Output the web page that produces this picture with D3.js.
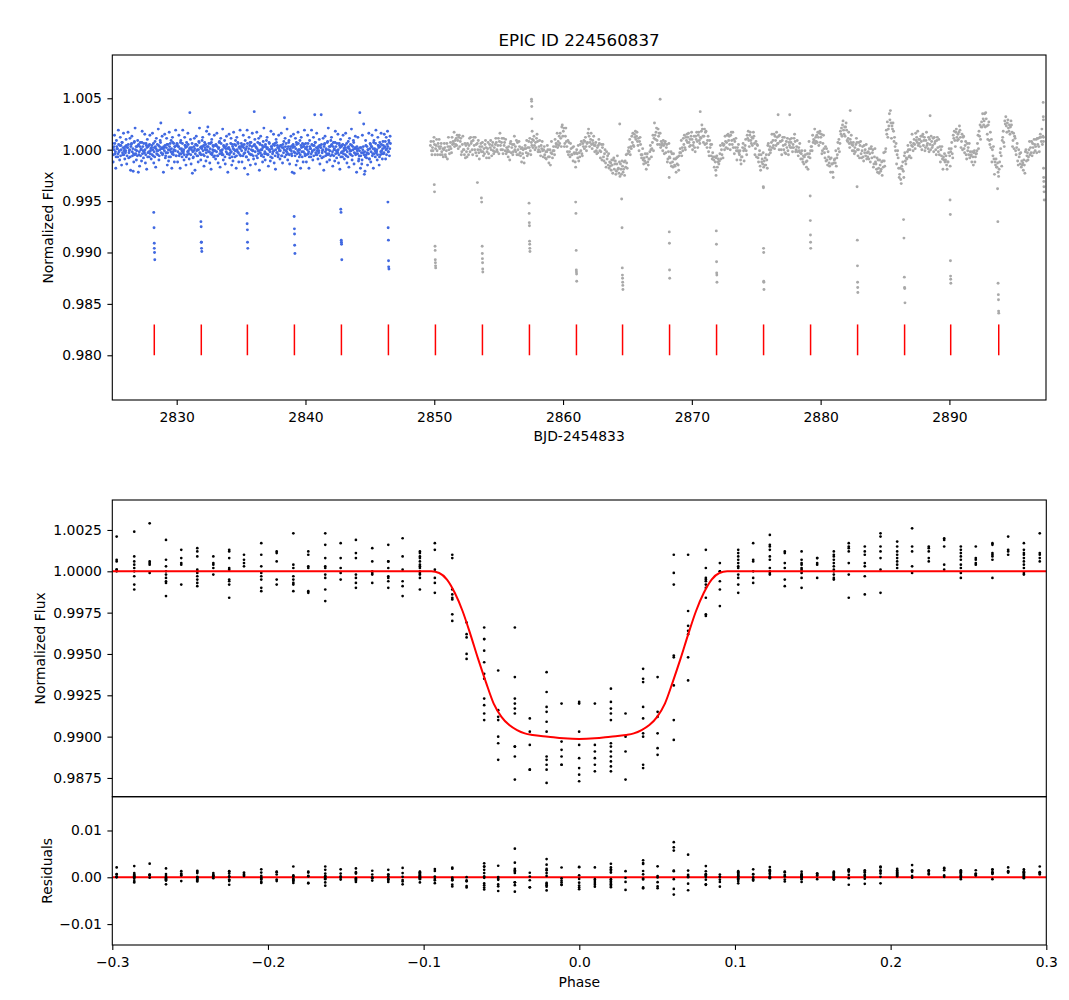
<!DOCTYPE html>
<html>
<head>
<meta charset="utf-8">
<script src="https://cdn.jsdelivr.net/npm/d3@7"></script>
<style>
body { margin: 0; background: #fff; }
text { font-family: "DejaVu Sans", sans-serif; fill: #000; }
</style>
</head>
<body>
<div id="chart"></div>
<script>
//---------------------------------------Data---------------------------------------
// transit mid-times marked in red (BJD-2454833)
var transitTimes = [2828.26, 2831.91, 2835.49, 2839.14, 2842.79, 2846.44, 2850.09, 2853.74, 2857.39, 2861.04,
  2864.62, 2868.27, 2871.92, 2875.57, 2879.22, 2882.87, 2886.52, 2890.10, 2893.83];

// first part of the light curve (blue), flux as (flux-1)*1e4, one row per day
var blueDay0 = 2825.02, blueStep = 0.05;
var blueFlux = [
  [6,-12,3,14,-4,-18,9,1,-7,19,-2,-10,12,4,-15,7,-5,16,-1,-9],
  [-3,10,-14,2,17,-8,-1,11,-20,5,13,-6,-21,-12,8,21,-4,-10,3,9],
  [-22,-5,-16,7,0,-11,18,3,-8,-2,15,-13,6,-19,10,-3,4,-7,14,-1],
  [-9,4,16,-6,-13,2,8,-17,11,-1,-5,20,-10,3,9,26,1,13,-4,-22],
  [2,15,-8,-3,11,-15,5,-11,17,0,-7,9,-18,12,-2,6,-12,3,19,-6],
  [6,-12,3,14,-4,-18,9,1,-7,19,-2,-10,12,4,-15,7,-5,16,-1,-9],
  [36,10,-14,2,-23,-8,-1,11,-20,5,13,-6,0,-12,8,21,-4,-10,3,9],
  [12,-5,-16,7,0,-11,18,3,22,-2,15,-13,6,-19,10,-3,4,-7,14,-1],
  [-9,4,16,-6,-13,2,8,-17,11,-1,-5,20,-10,3,9,-14,1,13,-4,-22],
  [2,15,-8,-3,11,-15,5,-11,17,0,-7,9,-18,12,-2,6,-12,3,19,-6],
  [6,-12,3,14,-4,-18,9,1,-7,19,-24,-10,12,4,-15,7,-5,16,-1,-9],
  [37,10,-14,2,17,-8,-1,11,-20,5,13,-6,0,-12,8,21,-4,-10,3,9],
  [12,-5,-16,7,0,-11,18,3,-8,-2,15,-13,6,-19,10,-3,4,-7,14,-1],
  [-9,4,16,-6,-13,2,8,31,11,-1,-5,20,-10,3,9,-14,1,13,-4,-22],
  [2,15,-23,-3,11,-15,5,-11,17,0,-7,9,-18,12,-2,6,-12,3,19,-6],
  [6,-12,3,14,-4,-18,9,1,-7,19,-2,-10,12,4,34,7,-5,16,-1,-9],
  [-3,10,-14,2,34,-8,-1,11,-20,5,13,-6,0,-12,8,21,-4,-10,3,9],
  [12,-5,-16,7,0,-11,18,3,-8,-2,15,-13,6,-19,10,-3,4,-7,14,-1],
  [-9,4,16,-6,-13,2,8,-17,11,-1,-5,20,-10,3,9,-14,1,13,-4,-22],
  [-1,12,-11,-6,36,-18,2,-14,14,-3,25,-24,-21,9,-5,3,-15,0,16,-9],
  [6,-12,3,14,-4,-18,9,1,-7,19,-2,-10,12,4,-15,7,-5,16,-1,-9],
  [8,-4,15,3,-9,12,1,18,-2,9,-6,13]
];
// blue points between the rows above, the dense core of the band
var blueCoreDay0 = 2825.045, blueCoreStep = 0.05;
var blueCoreFlux = [
  [2,-5,0,6,-2,-7,3,1,-4,5,-1,4,-6,0,7,-3,2,-5,1,3],
  [-1,4,-6,2,5,-3,0,-7,3,6,-2,1,-4,7,-5,0,3,-1,-6,4],
  [5,-2,3,-6,1,7,-4,-1,6,-3,0,-5,4,2,-7,3,-2,5,-4,1],
  [2,-5,0,6,-2,-7,3,1,-4,5,-1,4,-6,0,7,-3,2,-5,1,3],
  [-1,4,-6,2,5,-3,0,-7,3,6,-2,1,-4,7,-5,0,3,-1,-6,4],
  [5,-2,3,-6,1,7,-4,-1,6,-3,0,-5,4,2,-7,3,-2,5,-4,1],
  [2,-5,0,6,-2,-7,3,1,-4,5,-1,4,-6,0,7,-3,2,-5,1,3],
  [-1,4,-6,2,5,-3,0,-7,3,6,-2,1,-4,7,-5,0,3,-1,-6,4],
  [5,-2,3,-6,1,7,-4,-1,6,-3,0,-5,4,2,-7,3,-2,5,-4,1],
  [2,-5,0,6,-2,-7,3,1,-4,5,-1,4,-6,0,7,-3,2,-5,1,3],
  [-1,4,-6,2,5,-3,0,-7,3,6,-2,1,-4,7,-5,0,3,-1,-6,4],
  [5,-2,3,-6,1,7,-4,-1,6,-3,0,-5,4,2,-7,3,-2,5,-4,1],
  [2,-5,0,6,-2,-7,3,1,-4,5,-1,4,-6,0,7,-3,2,-5,1,3],
  [-1,4,-6,2,5,-3,0,-7,3,6,-2,1,-4,7,-5,0,3,-1,-6,4],
  [5,-2,3,-6,1,7,-4,-1,6,-3,0,-5,4,2,-7,3,-2,5,-4,1],
  [2,-5,0,6,-2,-7,3,1,-4,5,-1,4,-6,0,7,-3,2,-5,1,3],
  [-1,4,-6,2,5,-3,0,-7,3,6,-2,1,-4,7,-5,0,3,-1,-6,4],
  [5,-2,3,-6,1,7,-4,-1,6,-3,0,-5,4,2,-7,3,-2,5,-4,1],
  [2,-5,0,6,-2,-7,3,1,-4,5,-1,4,-6,0,7,-3,2,-5,1,3],
  [-4,1,-9,-1,2,-6,-3,-10,0,3,-5,-2,-7,4,-8,-3,0,-4,-9,1],
  [5,-2,3,-6,1,7,-4,-1,6,-3,0,-5,4,2,-7,3,-2,5,-4,1],
  [4,-3,2,8,0,-5,5,3,-2,7,1,6]
];
// in-transit points of the blue part
var blueDipTime = [2828.22,2828.24,2828.26,2828.26,2828.28,2828.30,
  2831.88,2831.90,2831.91,2831.92,2831.93,2831.95,
  2835.46,2835.47,2835.49,2835.50,2835.52,
  2839.12,2839.14,2839.15,2839.16,2839.18,
  2842.74,2842.76,2842.78,2842.79,2842.80,2842.82,
  2846.40,2846.42,2846.44,2846.45,2846.46,2846.48];
var blueDipFlux = [-61,-76,-91,-96,-100,-107,
  -70,-75,-90,-90,-96,-99,
  -62,-72,-78,-90,-96,
  -65,-77,-82,-93,-101,
  -58,-61,-88,-90,-92,-107,
  -51,-76,-88,-108,-114,-116];

// second part of the light curve (gray), one row per day
var grayDay0 = 2849.70, grayStep = 0.04;
var grayFlux = [
  [4,8,-1,-5,2,-1,8,12,5,-5,1,4,10,-1,-5,6,3,10,1,-5,3,6,-2,-5,1],
  [-7,0,6,2,-5,-7,-1,6,-9,3,12,0,-4,3,7,1,-3,12,5,8,6,17,3,9,5],
  [11,4,14,9,1,12,14,3,8,11,-5,-2,5,13,0,0,-5,6,-8,4,-2,-7,6,1,-5],
  [4,11,-2,12,6,8,0,-5,9,12,4,0,12,-3,5,-6,6,0,9,-3,-9,3,0,6,-2],
  [3,7,-2,-6,1,-4,5,9,2,-8,-2,1,7,-4,-8,5,2,9,0,-6,4,7,-1,-4,2],
  [-2,5,11,7,0,-2,4,11,-4,8,16,4,0,7,11,0,-4,11,4,7,-1,10,-4,2,-2],
  [0,-7,3,-2,-10,6,8,-3,2,5,-5,-2,5,13,0,3,-2,9,-5,7,0,-5,8,3,-3],
  [-6,1,-12,2,-4,0,-8,-13,1,4,1,-3,9,-6,2,-4,8,2,11,-1,-5,7,4,10,2],
  [9,13,4,0,7,2,11,15,8,-2,0,3,9,-2,-6,4,1,8,-1,-7,0,3,-5,-8,-2],
  [-9,-2,4,0,-7,-13,-7,0,-15,-3,8,-4,-8,-1,3,-1,-5,10,3,6,5,16,2,8,4],
  [13,6,16,11,3,22,24,13,18,21,3,6,13,21,8,3,-2,9,-5,7,-2,-7,6,1,-5],
  [-5,2,-11,3,-3,-4,-12,-17,-3,0,-4,-8,4,-11,-3,-7,5,-1,8,-4,-6,6,3,9,1],
  [8,12,3,-1,6,7,16,20,13,3,7,10,16,5,1,9,6,13,4,-2,4,7,-1,-4,2],
  [-3,4,10,6,-1,-8,-2,5,-10,2,5,-7,-11,-4,0,-13,-17,-2,-9,-6,-15,-4,-18,-12,-16],
  [-13,-20,-10,-15,-23,-10,-8,-19,-14,-11,-24,-21,-14,-6,-19,-18,-23,-12,-26,-14,-19,-24,-11,-16,-22],
  [-19,-12,-25,-11,-17,-5,-13,-18,-4,-1,2,-2,10,-5,3,1,13,7,16,4,3,15,12,18,10],
  [13,17,8,4,11,-1,8,12,5,-5,-8,-5,1,-10,-14,-8,-11,-4,-13,-19,-7,-4,-12,-15,-9],
  [-9,-2,4,0,-7,1,7,14,-1,11,26,14,10,17,21,9,5,20,13,16,5,16,2,8,4],
  [6,-1,9,4,-4,6,8,-3,2,5,-12,-9,-2,6,-7,-8,-13,-2,-16,-4,-12,-17,-4,-9,-15],
  [-16,-9,-22,-8,-14,-7,-15,-20,-6,-3,1,-3,9,-6,2,-1,11,5,14,2,0,12,9,15,7],
  [12,16,7,3,10,4,13,17,10,0,4,7,13,2,-2,13,10,17,8,2,14,17,9,6,12],
  [11,18,24,20,13,7,13,20,5,17,18,6,2,9,13,-2,-6,9,2,5,-6,5,-9,-3,-7],
  [-10,-17,-7,-12,-20,-8,-6,-17,-12,-9,-14,-11,-4,4,-9,0,-5,6,-8,4,5,0,13,8,2],
  [7,14,1,15,9,13,5,0,14,17,9,5,17,2,10,-4,8,2,11,-1,-10,2,-1,5,-3],
  [-5,-1,-10,-14,-7,-7,2,6,-1,-11,1,4,10,-1,-5,14,11,18,9,3,14,17,9,6,12],
  [4,11,17,13,6,-5,1,8,-7,5,4,-8,-12,-5,-1,-16,-20,-5,-12,-9,-14,-3,-17,-11,-15],
  [-8,-15,-5,-10,-18,4,6,-5,0,3,-3,0,7,15,2,9,4,15,1,13,9,4,17,12,6],
  [6,13,0,14,8,8,0,-5,9,12,4,0,12,-3,5,-4,8,2,11,-1,-5,7,4,10,2],
  [7,11,2,-2,5,2,11,15,8,-2,0,3,9,-2,-6,2,-1,6,-3,-9,-4,-1,-9,-12,-6],
  [-14,-7,-1,-5,-12,-17,-11,-4,-19,-7,8,-4,-8,-1,3,3,-1,14,7,10,9,20,6,12,8],
  [14,7,17,12,4,16,18,7,12,15,-4,-1,6,14,1,-3,-8,3,-11,1,-10,-15,-2,-7,-13],
  [-16,-9,-22,-8,-14,-14,-22,-27,-13,-10,-9,-13,-1,-16,-8,-5,7,1,10,-2,6,18,15,21,13],
  [24,28,19,15,22,13,22,26,19,9,8,11,17,6,2,10,7,14,5,-1,4,7,-1,-4,2],
  [-2,5,11,7,0,-6,0,7,-8,4,8,-4,-8,-1,3,-7,-11,4,-3,0,-6,5,-9,-3,-7],
  [-2,-9,1,-4,-12,1,3,-8,-3,0,-17,-14,-7,1,-12,-14,-19,-8,-22,-10,-18,-23,-10,-15,-21],
  [-19,-12,-25,-11,-17,-3,-11,-16,-2,1,19,15,27,12,20,23,35,29,38,26,11,23,20,26,18],
  [8,12,3,-1,6,-14,-5,-1,-8,-18,-27,-24,-18,-29,-33,-16,-19,-12,-21,-27,-6,-3,-11,-14,-8],
  [-9,-2,4,0,-7,-6,0,7,-8,4,15,3,-1,6,10,5,1,16,9,12,7,18,4,10,6],
  [10,3,13,8,0,13,15,4,9,12,-1,2,9,17,4,6,1,12,-2,10,5,0,13,8,2],
  [4,11,-2,12,6,8,0,-5,9,12,2,-2,10,-5,3,-12,0,-6,3,-9,-19,-7,-10,-4,-12],
  [-10,-6,-15,-19,-12,-12,-3,1,-6,-16,-2,1,7,-4,-8,14,11,18,9,3,17,20,12,9,15],
  [10,17,23,19,12,2,8,15,0,12,13,1,-3,4,8,-5,-9,6,-1,2,-5,6,-8,-2,-6],
  [-5,-12,-2,-7,-15,-3,-1,-12,-7,-4,-4,-1,6,14,1,18,13,24,10,22,27,22,35,30,24],
  [28,35,22,36,30,23,15,10,24,27,9,5,17,2,10,-12,0,-6,3,-9,-24,-12,-15,-9,-17],
  [-17,-13,-22,-26,-19,-12,-3,1,-6,-16,9,12,18,7,3,28,25,32,23,17,26,29,21,18,24],
  [15,22,28,24,17,3,9,16,1,13,11,-1,-5,2,6,-11,-15,0,-7,-4,-14,-3,-17,-11,-15],
  [-13,-20,-10,-15,-23,-2,0,-11,-6,-3,-10,-7,0,8,-5,2,-3,8,-6,6,2,-3,10,5,-1],
  [3,10,-3,11,5,11,3,-2,12,15,12,8,20,5,13,8]
];
// in-transit points and outliers of the gray part
var grayExtraTime = [2850.00,2850.02,2850.06,2850.07,2850.08,2850.09,2850.10,2850.11,
  2853.35,2853.66,2853.68,2853.72,2853.73,2853.74,2853.75,2853.76,2853.77,
  2857.36,2857.37,2857.38,2857.39,2857.40,2857.41,2857.42,2857.43,
  2857.55,2857.56,2857.57,2857.58,2857.60,
  2860.98,2861.00,2861.02,2861.03,2861.04,2861.05,2861.06,
  2864.55,2864.58,2864.60,2864.61,2864.62,2864.63,2864.64,2864.65,
  2868.24,2868.25,2868.26,2868.27,2868.28,
  2871.88,2871.90,2871.91,2871.92,2871.93,2871.94,2871.95,
  2875.55,2875.56,2875.57,2875.58,2875.58,2875.59,2875.60,
  2879.19,2879.20,2879.21,2879.22,2879.23,
  2882.83,2882.85,2882.86,2882.87,2882.88,2882.89,
  2886.44,2886.47,2886.50,2886.52,2886.53,2886.55,
  2890.05,2890.07,2890.08,2890.09,2890.10,2890.11,
  2893.74,2893.76,2893.78,2893.80,2893.81,2893.82,2893.83,
  2897.28,2897.29,2897.30,2897.30,2897.31,2897.32,2897.33,2897.34,2897.35,2897.36,
  2864.40,2867.54,2870.65,2876.70,2877.60,2882.30,2888.50];
var grayExtraFlux = [-34,-41,-94,-98,-107,-110,-113,-115,
  -32,-47,-51,-94,-101,-106,-110,-116,-119,
  -52,-62,-71,-74,-89,-92,-96,-99,
  49,47,42,30,18,
  -51,-62,-98,-117,-119,-121,-128,
  -48,-76,-115,-122,-125,-129,-132,-136,
  -27,-80,-91,-117,-125,
  -25,-79,-92,-109,-120,-122,-129,
  -36,-37,-96,-100,-128,-129,-136,
  -45,-69,-83,-90,-96,
  -36,-88,-113,-129,-134,-139,
  -68,-86,-124,-134,-135,-149,
  -49,-63,-108,-123,-126,-130,
  -38,-70,-130,-141,-146,-157,-159,
  46,32,29,12,-18,-27,-31,-36,-41,-49,
  25,49,37,34,34,38,33];

// phase-folded data: one column of points per phase bin, flux as (flux-1)*1e4
var phaseCols = [-0.2972,-0.2859,-0.2760,-0.2655,-0.2557,-0.2454,-0.2351,-0.2249,-0.2154,-0.2043,
  -0.1944,-0.1837,-0.1741,-0.1632,-0.1533,-0.1435,-0.1330,-0.1227,-0.1135,-0.1024,
  -0.0928,-0.0816,-0.0724,-0.0611,-0.0521,-0.0414,-0.0318,-0.0210,-0.0114,-0.0001,
  0.0100,0.0203,0.0297,0.0410,0.0503,0.0607,0.0699,0.0813,0.0903,0.1021,
  0.1117,0.1224,0.1320,0.1428,0.1528,0.1635,0.1731,0.1834,0.1935,0.2042,
  0.2138,0.2245,0.2344,0.2451,0.2547,0.2654,0.2755,0.2856,0.2958];
var foldFlux = [
  [21,7,6,1,1,0],
  [24,9,6,4,2,0,-3,-8,-11],
  [29,6,5,4,-1],
  [19,7,3,0,-2,-4,-6,-7,-15],
  [13,8,5,4,-8],
  [14,12,9,1,0,-1,-3,-5,-7,-9],
  [9,5,4,2,-2],
  [13,12,8,2,1,-5,-6,-8,-16],
  [10,7,5,3],
  [17,10,3,-1,-3,-5,-10,-12],
  [12,11,6,-5,-8],
  [23,4,2,-3,-5,-7,-8,-12],
  [12,10,3,2,-12,-13],
  [23,16,8,3,2,-2,-4,-11,-18],
  [17,8,2,-1,-5],
  [19,11,8,-2,-4,-7,-10],
  [14,6,0,-1,-2,-7],
  [16,6,6,2,-3,-4,-6,-10],
  [20,9,1,-6,-9,-15],
  [12,11,9,8,6,4,3,2,0,-1,-2,-4,-11],
  [17,13,1,-4,-7,-13],
  [10,8,-11,-14,-16,-17,-26,-30],
  [-31,-38,-40,-50,-53],
  [-34,-41,-41,-48,-55,-62,-65,-77,-81,-86,-90],
  [-60,-84,-88,-90,-100,-104,-114],
  [-34,-64,-77,-80,-83,-86,-106,-106,-112,-126],
  [-89,-97,-105,-120,-120],
  [-61,-73,-82,-85,-91,-97,-112,-114,-117,-120,-128],
  [-80,-103,-108,-112,-117,-117],
  [-79,-80,-97,-105,-113,-119,-123,-127],
  [-80,-105,-109,-113,-117,-121],
  [-71,-79,-83,-86,-90,-104,-106,-109,-112,-115,-118,-121],
  [-86,-100,-109,-126],
  [-59,-65,-67,-82,-89,-98,-100,-117,-119],
  [-64,-85,-88,-98,-107,-111],
  [10,-1,-8,-51,-52,-69,-90,-102],
  [10,-24,-33,-36,-38,-52,-66],
  [13,2,-4,-5,-6,-8,-10,-16,-26,-27],
  [5,0,0,-6,-11,-21],
  [13,11,9,7,5,3,2,-2,-4,-8,-13],
  [17,7,6,0,-4,-7],
  [22,16,15,13,9,7,2,0,-1,-2],
  [12,11,5,2,-5,-9],
  [12,7,5,4,2,1,0,-1,-4,-10],
  [8,8,5,4,-4],
  [12,10,9,7,5,3,1,0,-2,-4,-5],
  [17,15,14,12,5,-2,-16],
  [15,12,10,5,3,-3,-14],
  [23,21,15,12,8,1,-13],
  [18,15,12,10,8,6,4,2],
  [26,15,12,3,-1],
  [15,14,12,8,6],
  [20,19,15,4,1],
  [15,13,11,9,7,4,2,-1,-4],
  [15,8,7,5,4],
  [17,16,11,10,9,7,-4],
  [21,13,12,10],
  [17,13,11,10,8,6,4,2,-1,-2],
  [23,11,10,8,6]
];
// transit model, (flux-1)*1e4
var modelPhase = [-0.30,-0.10,-0.095,-0.09,-0.085,-0.08,-0.075,-0.07,-0.065,-0.06,-0.055,-0.05,-0.045,-0.04,-0.035,-0.03,-0.02,-0.01,0,
  0.01,0.02,0.03,0.035,0.04,0.045,0.05,0.055,0.06,0.065,0.07,0.075,0.08,0.085,0.09,0.095,0.10,0.30];
var modelFlux = [0,0,0,-1,-5,-13,-24,-38,-53,-67,-80,-88,-93,-96,-98,-99,-100,-101,-101.4,
  -101,-100,-99,-98,-96,-93,-88,-80,-67,-53,-38,-24,-13,-5,-1,0,0,0];

// tick labels
var timeTicks = [2830, 2840, 2850, 2860, 2870, 2880, 2890];
var fluxTicks = [0.980, 0.985, 0.990, 0.995, 1.000, 1.005];
var foldTicks = [0.9875, 0.9900, 0.9925, 0.9950, 0.9975, 1.0000, 1.0025];
var resTicks = [-0.01, 0.00, 0.01];
var phaseTicks = [-0.3, -0.2, -0.1, 0.0, 0.1, 0.2, 0.3];

//---------------------------------------Layout---------------------------------------
var fig = {width: 1069, height: 1000};
var top_ax = {left: 112.3, right: 1046, top: 55, bottom: 400};
var mid_ax = {left: 112.3, right: 1046.3, top: 500, bottom: 796.7};
var res_ax = {left: 112.3, right: 1046.3, top: 796.7, bottom: 945};
var tickLen = 4.9, fontSize = 13.9;

var x_time = d3.scaleLinear().domain([2825.0, 2897.5]).range([top_ax.left, top_ax.right]);
var y_top = d3.scaleLinear().domain([0.97565, 1.00921]).range([top_ax.bottom, top_ax.top]);
var x_phase = d3.scaleLinear().domain([-0.3, 0.3]).range([mid_ax.left, mid_ax.right]);
var y_fold = d3.scaleLinear().domain([0.986367, 1.004313]).range([mid_ax.bottom, mid_ax.top]);
var y_res = d3.scaleLinear().domain([-0.01447, 0.01722]).range([res_ax.bottom, res_ax.top]);

//---------------------------------------Helpers---------------------------------------
function unroll(rows, day0, step) {
  var out = [];
  rows.forEach(function(row, r) {
    row.forEach(function(v, i) { out.push({t: day0 + r + i * step, f: 1 + v * 1e-4}); });
  });
  return out;
}

function pairs(times, fluxes) {
  return times.map(function(t, i) { return {t: t, f: 1 + fluxes[i] * 1e-4}; });
}

// model value at a phase, linear between the read-off samples
function model_at(p) {
  var i = d3.bisectRight(modelPhase, p);
  if (i <= 0) return 1 + modelFlux[0] * 1e-4;
  if (i >= modelPhase.length) return 1 + modelFlux[modelFlux.length - 1] * 1e-4;
  var p0 = modelPhase[i - 1], p1 = modelPhase[i];
  var f = modelFlux[i - 1] + (modelFlux[i] - modelFlux[i - 1]) * (p - p0) / (p1 - p0);
  return 1 + f * 1e-4;
}

function clip(svg, id, ax) {
  svg.append("clipPath").attr("id", id)
    .append("rect")
      .attr("x", ax.left).attr("y", ax.top)
      .attr("width", ax.right - ax.left).attr("height", ax.bottom - ax.top);
}

function frame(svg, ax) {
  svg.append("rect")
    .attr("x", ax.left).attr("y", ax.top)
    .attr("width", ax.right - ax.left).attr("height", ax.bottom - ax.top)
    .attr("fill", "none").attr("stroke", "#000").attr("stroke-width", 1.1);
}

function style_axis(g) {
  g.select(".domain").remove();
  g.selectAll(".tick line").attr("stroke", "#000").attr("stroke-width", 1.1);
  g.selectAll(".tick text")
    .attr("font-family", "DejaVu Sans, sans-serif")
    .attr("font-size", fontSize)
    .attr("fill", "#000");
}

function y_label(svg, x, y, txt) {
  svg.append("text")
    .attr("transform", "translate(" + x + "," + y + ") rotate(-90)")
    .attr("text-anchor", "middle")
    .attr("font-size", fontSize)
    .text(txt);
}

//---------------------------------------Chart---------------------------------------
var svg = d3.select("#chart")
  .append("svg")
    .attr("width", fig.width)
    .attr("height", fig.height);

svg.append("rect").attr("width", fig.width).attr("height", fig.height).attr("fill", "#fff");

var defs = svg.append("defs");
clip(defs, "clip-top", top_ax);
clip(defs, "clip-mid", mid_ax);
clip(defs, "clip-res", res_ax);

// ---- top panel: light curve ----
var bluePts = unroll(blueFlux, blueDay0, blueStep)
  .concat(unroll(blueCoreFlux, blueCoreDay0, blueCoreStep))
  .concat(pairs(blueDipTime, blueDipFlux));
var grayPts = unroll(grayFlux, grayDay0, grayStep).concat(pairs(grayExtraTime, grayExtraFlux));

var gTop = svg.append("g").attr("clip-path", "url(#clip-top)");

gTop.append("g").selectAll("circle")
  .data(bluePts).enter().append("circle")
    .attr("cx", function(d) { return x_time(d.t); })
    .attr("cy", function(d) { return y_top(d.f); })
    .attr("r", 1.45)
    .attr("fill", "#4169e1");

gTop.append("g").selectAll("circle")
  .data(grayPts).enter().append("circle")
    .attr("cx", function(d) { return x_time(d.t); })
    .attr("cy", function(d) { return y_top(d.f); })
    .attr("r", 1.45)
    .attr("fill", "#a9a9a9");

gTop.append("g").selectAll("line")
  .data(transitTimes).enter().append("line")
    .attr("x1", function(d) { return x_time(d); })
    .attr("x2", function(d) { return x_time(d); })
    .attr("y1", y_top(0.980))
    .attr("y2", y_top(0.983))
    .attr("stroke", "red")
    .attr("stroke-width", 1.5);

frame(svg, top_ax);

svg.append("g")
  .attr("transform", "translate(0," + top_ax.bottom + ")")
  .call(d3.axisBottom(x_time).tickValues(timeTicks).tickFormat(d3.format("d"))
    .tickSize(tickLen).tickPadding(6.8))
  .call(style_axis);

svg.append("g")
  .attr("transform", "translate(" + top_ax.left + ",0)")
  .call(d3.axisLeft(y_top).tickValues(fluxTicks).tickFormat(d3.format(".3f"))
    .tickSize(tickLen).tickPadding(5.5))
  .call(style_axis);

svg.append("text")
  .attr("x", (top_ax.left + top_ax.right) / 2).attr("y", 46)
  .attr("text-anchor", "middle").attr("font-size", 16.7)
  .text("EPIC ID 224560837");

svg.append("text")
  .attr("x", (top_ax.left + top_ax.right) / 2).attr("y", 441)
  .attr("text-anchor", "middle").attr("font-size", fontSize)
  .text("BJD-2454833");

y_label(svg, 53, (top_ax.top + top_ax.bottom) / 2, "Normalized Flux");

// ---- middle panel: folded transit ----
var foldPts = [];
foldFlux.forEach(function(col, k) {
  col.forEach(function(v) {
    var f = 1 + v * 1e-4;
    foldPts.push({p: phaseCols[k], f: f, r: f - model_at(phaseCols[k])});
  });
});
var modelPts = modelPhase.map(function(p, i) { return {p: p, f: 1 + modelFlux[i] * 1e-4}; });

var gMid = svg.append("g").attr("clip-path", "url(#clip-mid)");

gMid.append("g").selectAll("circle")
  .data(foldPts).enter().append("circle")
    .attr("cx", function(d) { return x_phase(d.p); })
    .attr("cy", function(d) { return y_fold(d.f); })
    .attr("r", 1.35)
    .attr("fill", "#000");

gMid.append("path")
  .datum(modelPts)
  .attr("fill", "none")
  .attr("stroke", "red")
  .attr("stroke-width", 2)
  .attr("d", d3.line()
    .curve(d3.curveMonotoneX)
    .x(function(d) { return x_phase(d.p); })
    .y(function(d) { return y_fold(d.f); }));

frame(svg, mid_ax);

svg.append("g")
  .attr("transform", "translate(" + mid_ax.left + ",0)")
  .call(d3.axisLeft(y_fold).tickValues(foldTicks).tickFormat(d3.format(".4f"))
    .tickSize(tickLen).tickPadding(5.5))
  .call(style_axis);

y_label(svg, 45, (mid_ax.top + mid_ax.bottom) / 2, "Normalized Flux");

// ---- bottom panel: residuals ----
var gRes = svg.append("g").attr("clip-path", "url(#clip-res)");

gRes.append("line")
  .attr("x1", res_ax.left).attr("x2", res_ax.right)
  .attr("y1", y_res(0)).attr("y2", y_res(0))
  .attr("stroke", "red").attr("stroke-width", 2);

gRes.append("g").selectAll("circle")
  .data(foldPts).enter().append("circle")
    .attr("cx", function(d) { return x_phase(d.p); })
    .attr("cy", function(d) { return y_res(d.r); })
    .attr("r", 1.35)
    .attr("fill", "#000");

frame(svg, res_ax);

svg.append("g")
  .attr("transform", "translate(0," + res_ax.bottom + ")")
  .call(d3.axisBottom(x_phase).tickValues(phaseTicks).tickFormat(d3.format(".1f"))
    .tickSize(tickLen).tickPadding(6.8))
  .call(style_axis);

svg.append("g")
  .attr("transform", "translate(" + res_ax.left + ",0)")
  .call(d3.axisLeft(y_res).tickValues(resTicks).tickFormat(d3.format(".2f"))
    .tickSize(tickLen).tickPadding(5.5))
  .call(style_axis);

svg.append("text")
  .attr("x", (res_ax.left + res_ax.right) / 2).attr("y", 987)
  .attr("text-anchor", "middle").attr("font-size", fontSize)
  .text("Phase");

y_label(svg, 51.7, (res_ax.top + res_ax.bottom) / 2, "Residuals");
</script>
</body>
</html>
